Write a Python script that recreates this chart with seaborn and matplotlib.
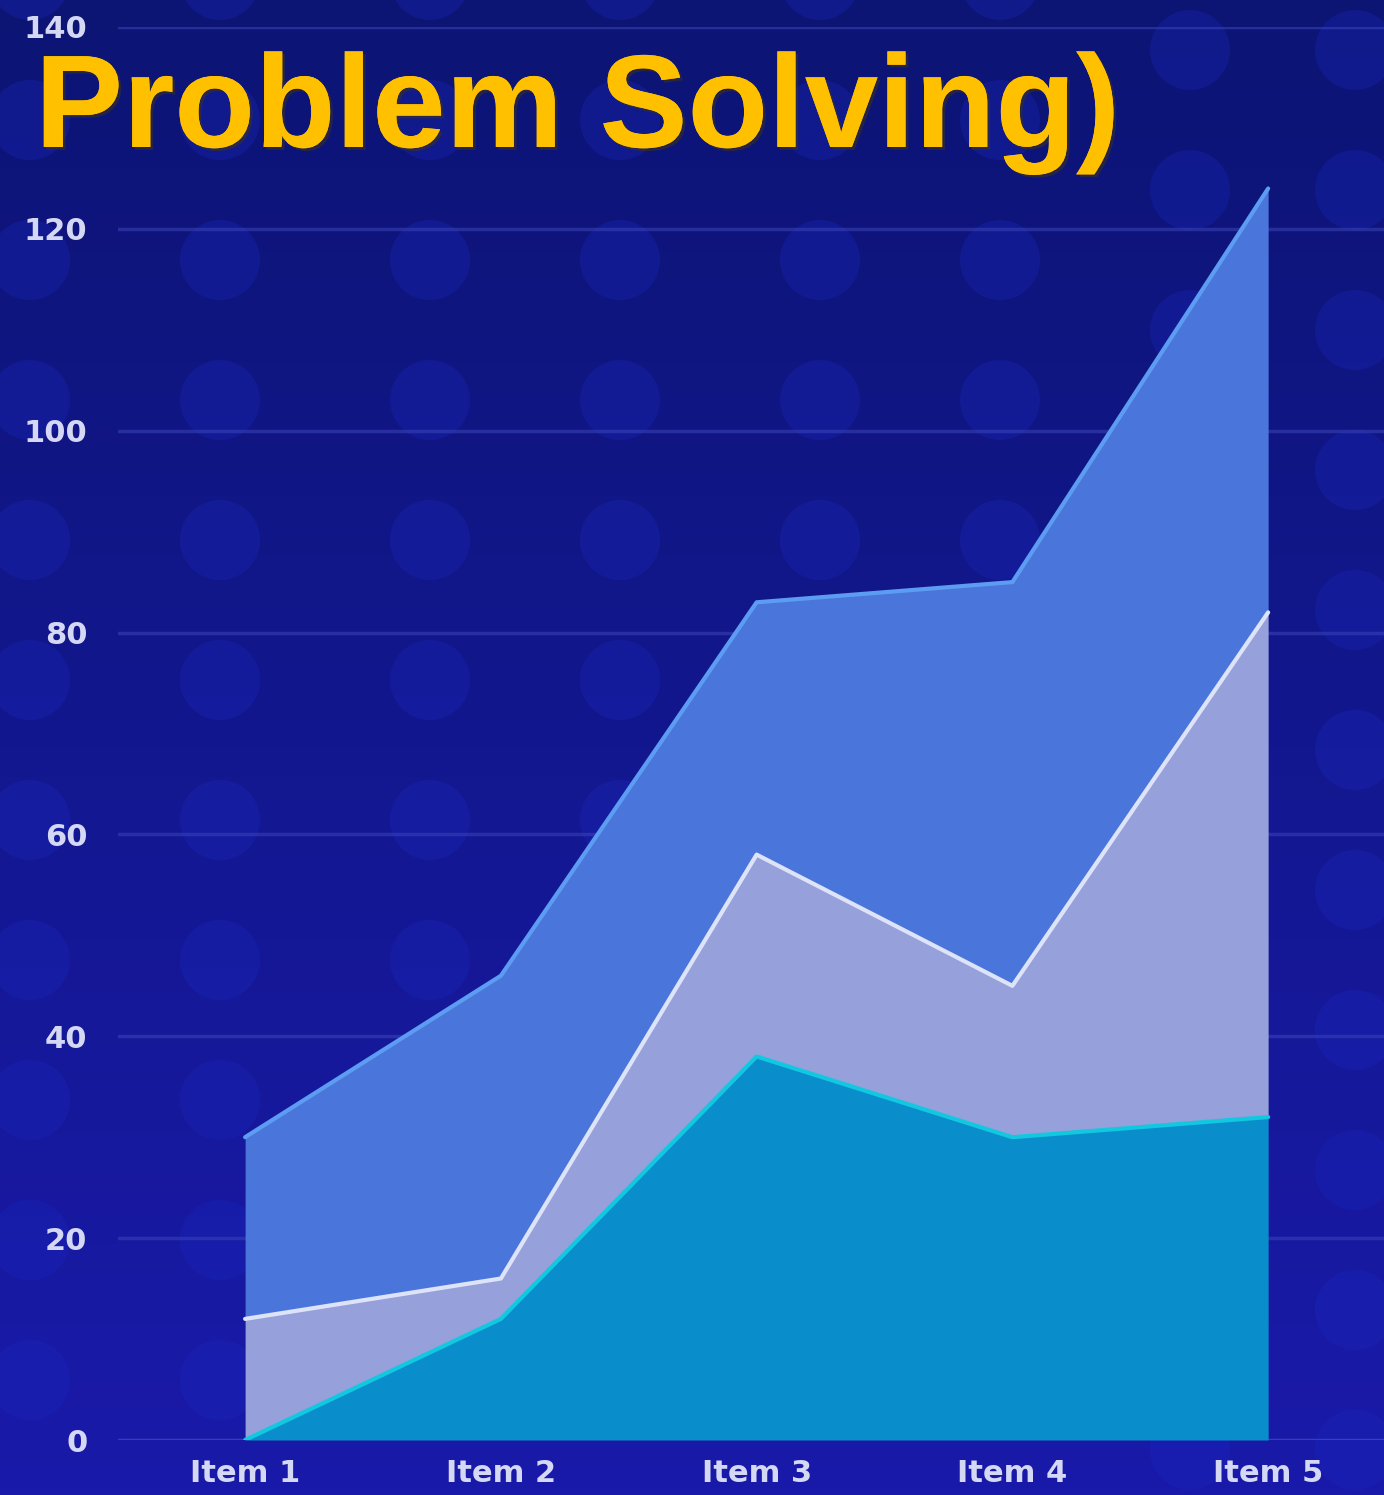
import numpy as np
import pandas as pd
import matplotlib
matplotlib.use("Agg")
import matplotlib.pyplot as plt
import matplotlib.patheffects as pe
import seaborn as sns

items = ["Item 1", "Item 2", "Item 3", "Item 4", "Item 5"]
serie_a = [0, 12, 38, 30, 32]
serie_b = [12, 4, 20, 15, 50]
serie_c = [18, 30, 25, 40, 42]
y_ticks = [0, 20, 40, 60, 80, 100, 120, 140]
titulo = "Problem Solving)"

sns.set_theme(style="white")
plt.rcParams["font.family"] = ["DejaVu Sans"]

df = pd.DataFrame({"item": items, "a": serie_a, "b": serie_b, "c": serie_c})
df["x"] = np.arange(len(items))
df["ab"] = df["a"] + df["b"]
df["abc"] = df["ab"] + df["c"]

fig = plt.figure(figsize=(13.84, 14.95), dpi=100)

# fundo em degrade com bolinhas
bg = fig.add_axes([0, 0, 1, 1], zorder=0)
grad = np.linspace(0, 1, 256).reshape(-1, 1)
cmap = matplotlib.colors.LinearSegmentedColormap.from_list("bg", ["#0c1474", "#1a1aaa"])
bg.imshow(grad, aspect="auto", cmap=cmap, extent=[0, 1384, 1495, 0])
for cx in [30, 220, 430, 620, 820, 1000, 1190, 1355]:
    for cy in range(-20, 1500, 140):
        off = 70 if (cx // 100) % 2 else 0
        bg.add_patch(plt.Circle((cx, cy + off), 40, color="#1a28c0", alpha=0.3, lw=0))
bg.set_xlim(0, 1384)
bg.set_ylim(1495, 0)
bg.axis("off")

ax = fig.add_axes([118 / 1384, 55 / 1495, 1 - 118 / 1384, (1440 - 27) / 1495], zorder=1)
ax.patch.set_alpha(0)

ax.fill_between(df["x"], 0, df["a"], color="#0a8ecb", lw=0, zorder=3)
ax.fill_between(df["x"], df["a"], df["ab"], color="#96a0da", lw=0, zorder=3)
ax.fill_between(df["x"], df["ab"], df["abc"], color="#4a75db", lw=0, zorder=3)

sns.lineplot(data=df, x="x", y="a", ax=ax, color="#12c8e0", lw=3, zorder=4)
sns.lineplot(data=df, x="x", y="ab", ax=ax, color="#dde3f8", lw=3, zorder=4)
sns.lineplot(data=df, x="x", y="abc", ax=ax, color="#5c9cf2", lw=3, zorder=4)

ax.set_xlim(-0.497, 4.453)
ax.set_ylim(0, 140)
ax.set_yticks(y_ticks)
ax.set_xticks(df["x"])
ax.set_xticklabels(items)
ax.set_xlabel("")
ax.set_ylabel("")
for y in y_ticks:
    ax.axhline(y, color="#3a44b8", alpha=0.55 if y else 0.9, lw=2.5, zorder=2)
ax.tick_params(axis="both", length=0, labelsize=22, labelcolor="#d4d8f4")
ax.tick_params(axis="y", pad=22)
ax.tick_params(axis="x", pad=14)
for lbl in ax.get_xticklabels() + ax.get_yticklabels():
    lbl.set_fontweight("bold")
for s in ax.spines.values():
    s.set_visible(False)

fig.text(35 / 1384, 1 - 147 / 1495, titulo, color="#ffc000", fontsize=95,
         fontweight="bold", family="Liberation Sans", va="baseline", ha="left", zorder=5,
         path_effects=[pe.withSimplePatchShadow(offset=(2, -2), shadow_rgbFace="#3a3020", alpha=0.6),
                       pe.Normal()])

fig.savefig("out.png", dpi=100)
